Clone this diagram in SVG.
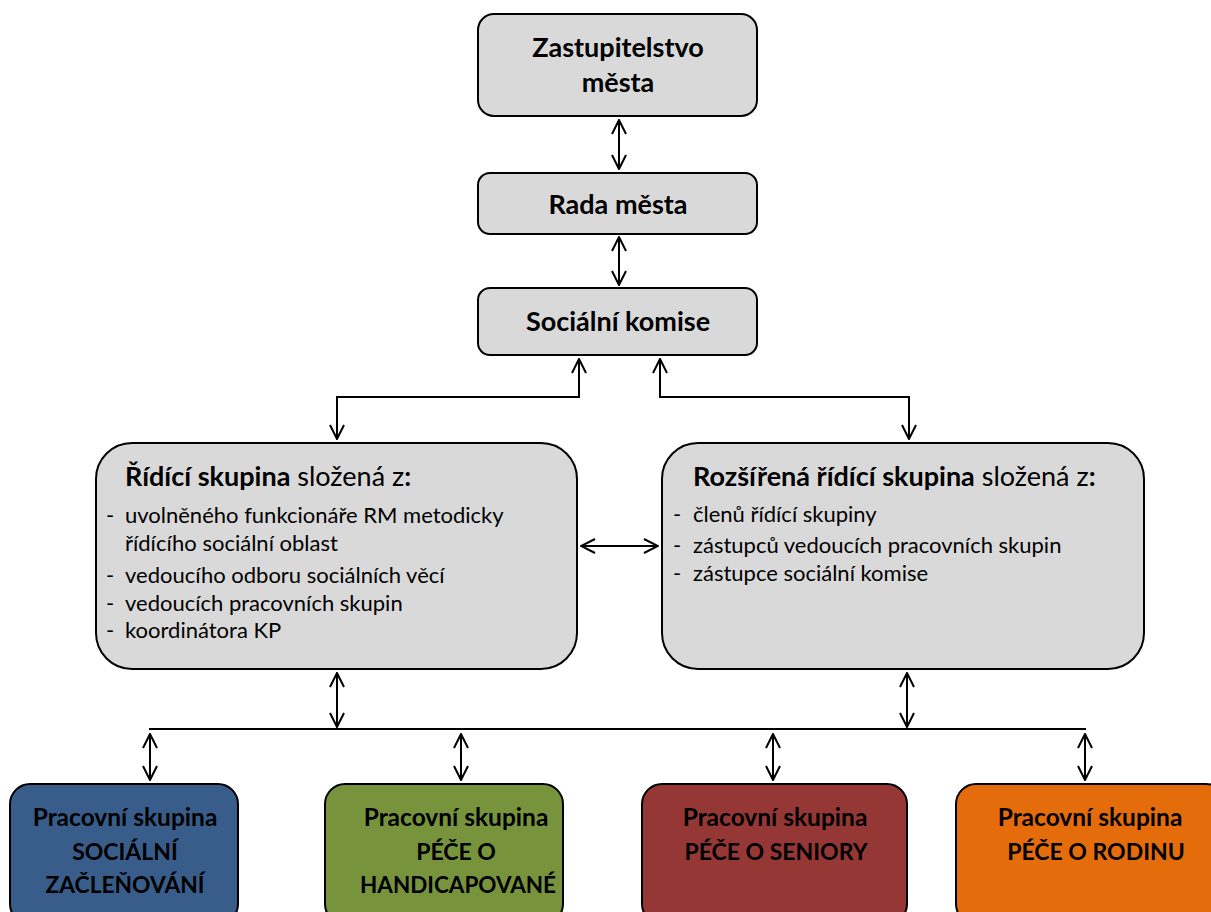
<svg xmlns="http://www.w3.org/2000/svg" width="1211" height="912" viewBox="0 0 1211 912">
<defs>
<marker id="ah" viewBox="0 0 16 16" refX="15" refY="8" markerWidth="16" markerHeight="16" markerUnits="userSpaceOnUse" orient="auto-start-reverse">
<path d="M1,1 L15,8 L1,15" fill="none" stroke="#000" stroke-width="2"/>
</marker>
<style>
.box{stroke:#000;stroke-width:2}
.gray{fill:#d9d9d9}
.t{font-family:Lato,"Open Sans","Liberation Sans",sans-serif;fill:#000}
.b{font-weight:bold}
.c{text-anchor:middle}
.cap{font-size:23px}
.con line,.con path{stroke:#000;stroke-width:2;fill:none}
.arr{marker-start:url(#ah);marker-end:url(#ah)}
</style>
</defs>
<rect width="1211" height="912" fill="#fff"/>
<g id="zastupitelstvo">
<rect class="box gray" x="478" y="14" width="279" height="102" rx="16"/>
<text class="t b c" x="618" y="57" font-size="27">Zastupitelstvo</text>
<text class="t b c" x="618" y="92" font-size="27">města</text>
</g>
<g id="rada">
<rect class="box gray" x="478" y="173" width="279" height="61" rx="12"/>
<text class="t b c" x="618" y="214" font-size="27">Rada města</text>
</g>
<g id="komise">
<rect class="box gray" x="478" y="288" width="279" height="67" rx="12"/>
<text class="t b c" x="618" y="331" font-size="27">Sociální komise</text>
</g>
<g id="ridici">
<rect class="box gray" x="96" y="443" width="481" height="226" rx="36"/>
<text class="t" x="125" y="486" font-size="27"><tspan class="b">Řídící skupina</tspan> složená z<tspan class="b">:</tspan></text>
<g class="t" font-size="22">
<text x="106" y="523">-</text><text x="125" y="523">uvolněného funkcionáře RM metodicky</text>
<text x="125" y="551">řídícího sociální oblast</text>
<text x="106" y="583">-</text><text x="125" y="583">vedoucího odboru sociálních věcí</text>
<text x="106" y="611">-</text><text x="125" y="611">vedoucích pracovních skupin</text>
<text x="106" y="638">-</text><text x="125" y="638">koordinátora KP</text>
</g>
</g>
<g id="rozsirena">
<rect class="box gray" x="662" y="443" width="482" height="226" rx="36"/>
<text class="t" x="693" y="486" font-size="27"><tspan class="b">Rozšířená řídící skupina</tspan> složená z<tspan class="b">:</tspan></text>
<g class="t" font-size="22">
<text x="673" y="522">-</text><text x="693" y="522">členů řídící skupiny</text>
<text x="673" y="553">-</text><text x="693" y="553">zástupců vedoucích pracovních skupin</text>
<text x="673" y="581">-</text><text x="693" y="581">zástupce sociální komise</text>
</g>
</g>
<g id="ps1">
<rect class="box" fill="#385d8a" x="10" y="784" width="228" height="140" rx="20"/>
<text class="t b c" x="125" y="826" font-size="24.5">Pracovní skupina</text>
<text class="t b c cap" x="125" y="860">SOCIÁLNÍ</text>
<text class="t b c cap" x="125" y="893" textLength="159" lengthAdjust="spacingAndGlyphs">ZAČLEŇOVÁNÍ</text>
</g>
<g id="ps2">
<rect class="box" fill="#77933c" x="325" y="784" width="238" height="140" rx="20"/>
<text class="t b c" x="456" y="826" font-size="24.5">Pracovní skupina</text>
<text class="t b c cap" x="456" y="860">PÉČE O</text>
<text class="t b c cap" x="458" y="893" textLength="196" lengthAdjust="spacingAndGlyphs">HANDICAPOVANÉ</text>
</g>
<g id="ps3">
<rect class="box" fill="#953735" x="642" y="784" width="265" height="140" rx="20"/>
<text class="t b c" x="775" y="826" font-size="24.5">Pracovní skupina</text>
<text class="t b c cap" x="776" y="860">PÉČE O SENIORY</text>
</g>
<g id="ps4">
<rect class="box" fill="#e46c0a" x="956" y="784" width="270" height="140" rx="20"/>
<text class="t b c" x="1090" y="826" font-size="24.5">Pracovní skupina</text>
<text class="t b c cap" x="1096" y="860">PÉČE O RODINU</text>
</g>
<g id="connectors" class="con">
<line class="arr" x1="619" y1="120" x2="619" y2="169"/>
<line class="arr" x1="619" y1="237" x2="619" y2="285"/>
<path d="M579,359 L579,397 L337,397 L337,439" class="arr"/>
<path d="M660,359 L660,397 L909,397 L909,439" class="arr"/>
<line class="arr" x1="581" y1="546" x2="658" y2="546"/>
<line class="arr" x1="337" y1="673" x2="337" y2="727"/>
<line class="arr" x1="907" y1="673" x2="907" y2="727"/>
<line x1="149" y1="729" x2="1086" y2="729"/>
<line class="arr" x1="150" y1="734" x2="150" y2="780"/>
<line class="arr" x1="461" y1="734" x2="461" y2="780"/>
<line class="arr" x1="773" y1="734" x2="773" y2="780"/>
<line class="arr" x1="1085" y1="734" x2="1085" y2="780"/>
</g>
</svg>
